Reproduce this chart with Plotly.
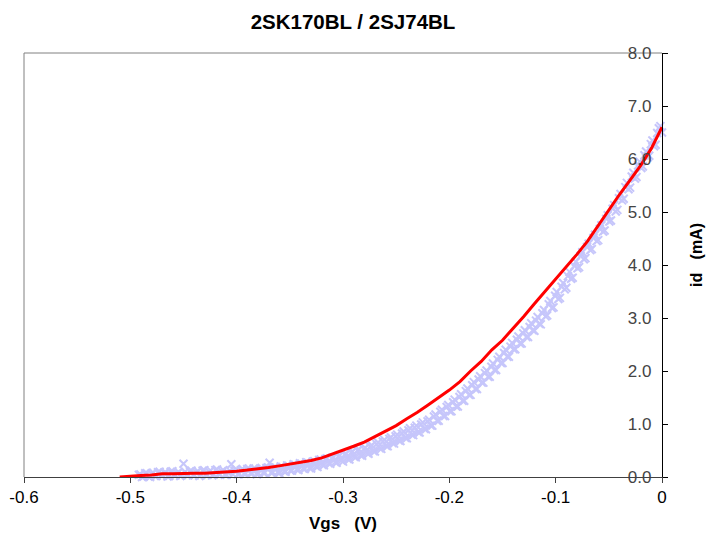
import plotly.graph_objects as go

# Red curve (Vgs in V, id in mA)
red_vgs = [-0.510, -0.500, -0.490, -0.480, -0.470, -0.460, -0.450, -0.440, -0.430, -0.420,
           -0.410, -0.400, -0.390, -0.380, -0.370, -0.360, -0.350, -0.340, -0.330, -0.320,
           -0.310, -0.300, -0.290, -0.280, -0.270, -0.260, -0.250, -0.240, -0.230, -0.220,
           -0.210, -0.200, -0.190, -0.180, -0.170, -0.160, -0.150, -0.140, -0.130, -0.120,
           -0.110, -0.100, -0.090, -0.080, -0.070, -0.060, -0.050, -0.040, -0.030, -0.020,
           -0.010, 0.000]
red_id = [0.00, 0.02, 0.03, 0.04, 0.06, 0.06, 0.07, 0.07, 0.07, 0.08,
          0.10, 0.11, 0.13, 0.15, 0.18, 0.21, 0.24, 0.27, 0.31, 0.36,
          0.43, 0.51, 0.58, 0.66, 0.76, 0.87, 0.97, 1.10, 1.22, 1.36,
          1.50, 1.64, 1.80, 2.00, 2.18, 2.40, 2.58, 2.80, 3.03, 3.27,
          3.50, 3.72, 3.95, 4.20, 4.45, 4.75, 5.03, 5.33, 5.60, 5.88,
          6.20, 6.60]

# Scatter measurements, sweep A (light blue x markers)
blue_vgs = [-0.492, -0.489, -0.486, -0.483, -0.480, -0.477, -0.474, -0.471, -0.468, -0.465,
            -0.462, -0.459, -0.456, -0.453, -0.450, -0.447, -0.444, -0.441, -0.438, -0.435,
            -0.432, -0.429, -0.426, -0.423, -0.420, -0.417, -0.414, -0.411, -0.408, -0.405,
            -0.402, -0.399, -0.396, -0.393, -0.390, -0.387, -0.384, -0.381, -0.378, -0.375,
            -0.372, -0.369, -0.366, -0.363, -0.360, -0.357, -0.354, -0.351, -0.348, -0.345,
            -0.342, -0.339, -0.336, -0.333, -0.330, -0.327, -0.324, -0.321, -0.318, -0.315,
            -0.312, -0.309, -0.306, -0.303, -0.300, -0.297, -0.294, -0.291, -0.288, -0.285,
            -0.282, -0.279, -0.276, -0.273, -0.270, -0.267, -0.264, -0.261, -0.258, -0.255,
            -0.252, -0.249, -0.246, -0.243, -0.240, -0.237, -0.234, -0.231, -0.228, -0.225,
            -0.222, -0.219, -0.216, -0.213, -0.210, -0.207, -0.204, -0.201, -0.198, -0.195,
            -0.192, -0.189, -0.186, -0.183, -0.180, -0.177, -0.174, -0.171, -0.168, -0.165,
            -0.162, -0.159, -0.156, -0.153, -0.150, -0.147, -0.144, -0.141, -0.138, -0.135,
            -0.132, -0.129, -0.126, -0.123, -0.120, -0.117, -0.114, -0.111, -0.108, -0.105,
            -0.102, -0.099, -0.096, -0.093, -0.090, -0.087, -0.084, -0.081, -0.078, -0.075,
            -0.072, -0.069, -0.066, -0.063, -0.060, -0.057, -0.054, -0.051, -0.048, -0.045,
            -0.042, -0.039, -0.036, -0.033, -0.030, -0.027, -0.024, -0.021, -0.018, -0.015,
            -0.012, -0.009, -0.006, -0.003, 0.000]
blue_id = [0.04, 0.00, 0.07, 0.01, 0.06, 0.02, 0.09, 0.03, 0.08, 0.01,
           0.10, 0.04, 0.07, 0.02, 0.25, 0.05, 0.11, 0.03, 0.09, 0.02,
           0.12, 0.05, 0.10, 0.03, 0.13, 0.06, 0.11, 0.04, 0.08, 0.24,
           0.12, 0.05, 0.13, 0.06, 0.15, 0.07, 0.16, 0.05, 0.14, 0.08,
           0.17, 0.27, 0.09, 0.18, 0.07, 0.19, 0.10, 0.21, 0.12, 0.23,
           0.13, 0.25, 0.15, 0.27, 0.16, 0.30, 0.19, 0.33, 0.22, 0.35,
           0.25, 0.37, 0.27, 0.41, 0.29, 0.44, 0.33, 0.48, 0.37, 0.52,
           0.40, 0.55, 0.44, 0.60, 0.48, 0.65, 0.53, 0.70, 0.58, 0.75,
           0.63, 0.80, 0.68, 0.86, 0.73, 0.92, 0.79, 0.97, 0.84, 1.03,
           0.90, 1.08, 0.97, 1.18, 1.06, 1.27, 1.15, 1.36, 1.24, 1.46,
           1.33, 1.56, 1.44, 1.67, 1.55, 1.79, 1.66, 1.90, 1.78, 2.01,
           1.89, 2.14, 2.02, 2.27, 2.15, 2.40, 2.27, 2.53, 2.41, 2.65,
           2.52, 2.77, 2.64, 2.90, 2.76, 3.02, 2.88, 3.15, 3.05, 3.32,
           3.20, 3.49, 3.38, 3.66, 3.57, 3.87, 3.76, 4.06, 3.96, 4.24,
           4.13, 4.40, 4.30, 4.57, 4.47, 4.75, 4.65, 4.94, 4.84, 5.13,
           5.04, 5.34, 5.25, 5.55, 5.46, 5.74, 5.66, 5.95, 5.86, 6.14,
           6.06, 6.35, 6.27, 6.58, 6.50]

# Scatter measurements, sweep B (interleaved)
blue2_vgs = [-0.4905, -0.4875, -0.4845, -0.4815, -0.4785, -0.4755, -0.4725, -0.4695, -0.4665, -0.4635,
             -0.4605, -0.4575, -0.4545, -0.4515, -0.4485, -0.4455, -0.4425, -0.4395, -0.4365, -0.4335,
             -0.4305, -0.4275, -0.4245, -0.4215, -0.4185, -0.4155, -0.4125, -0.4095, -0.4065, -0.4035,
             -0.4005, -0.3975, -0.3945, -0.3915, -0.3885, -0.3855, -0.3825, -0.3795, -0.3765, -0.3735,
             -0.3705, -0.3675, -0.3645, -0.3615, -0.3585, -0.3555, -0.3525, -0.3495, -0.3465, -0.3435,
             -0.3405, -0.3375, -0.3345, -0.3315, -0.3285, -0.3255, -0.3225, -0.3195, -0.3165, -0.3135,
             -0.3105, -0.3075, -0.3045, -0.3015, -0.2985, -0.2955, -0.2925, -0.2895, -0.2865, -0.2835,
             -0.2805, -0.2775, -0.2745, -0.2715, -0.2685, -0.2655, -0.2625, -0.2595, -0.2565, -0.2535,
             -0.2505, -0.2475, -0.2445, -0.2415, -0.2385, -0.2355, -0.2325, -0.2295, -0.2265, -0.2235,
             -0.2205, -0.2175, -0.2145, -0.2115, -0.2085, -0.2055, -0.2025, -0.1995, -0.1965, -0.1935,
             -0.1905, -0.1875, -0.1845, -0.1815, -0.1785, -0.1755, -0.1725, -0.1695, -0.1665, -0.1635,
             -0.1605, -0.1575, -0.1545, -0.1515, -0.1485, -0.1455, -0.1425, -0.1395, -0.1365, -0.1335,
             -0.1305, -0.1275, -0.1245, -0.1215, -0.1185, -0.1155, -0.1125, -0.1095, -0.1065, -0.1035,
             -0.1005, -0.0975, -0.0945, -0.0915, -0.0885, -0.0855, -0.0825, -0.0795, -0.0765, -0.0735,
             -0.0705, -0.0675, -0.0645, -0.0615, -0.0585, -0.0555, -0.0525, -0.0495, -0.0465, -0.0435,
             -0.0405, -0.0375, -0.0345, -0.0315, -0.0285, -0.0255, -0.0225, -0.0195, -0.0165, -0.0135,
             -0.0105, -0.0075, -0.0045, -0.0015]
blue2_id = [0.05, 0.01, 0.07, 0.00, 0.08, 0.02, 0.10, 0.03, 0.08, 0.02,
            0.11, 0.03, 0.09, 0.04, 0.10, 0.04, 0.12, 0.03, 0.11, 0.04,
            0.13, 0.04, 0.12, 0.05, 0.14, 0.05, 0.13, 0.04, 0.12, 0.05,
            0.14, 0.06, 0.15, 0.06, 0.16, 0.07, 0.15, 0.07, 0.17, 0.08,
            0.18, 0.08, 0.19, 0.09, 0.20, 0.11, 0.22, 0.12, 0.24, 0.14,
            0.26, 0.16, 0.28, 0.17, 0.29, 0.20, 0.32, 0.23, 0.34, 0.26,
            0.36, 0.28, 0.39, 0.31, 0.42, 0.34, 0.46, 0.38, 0.50, 0.41,
            0.53, 0.45, 0.57, 0.49, 0.62, 0.54, 0.67, 0.59, 0.72, 0.64,
            0.77, 0.69, 0.82, 0.74, 0.88, 0.80, 0.93, 0.85, 0.99, 0.91,
            1.05, 0.97, 1.14, 1.06, 1.23, 1.15, 1.32, 1.24, 1.41, 1.33,
            1.51, 1.44, 1.62, 1.55, 1.73, 1.66, 1.84, 1.78, 1.96, 1.89,
            2.08, 2.02, 2.21, 2.15, 2.34, 2.27, 2.46, 2.41, 2.59, 2.52,
            2.71, 2.64, 2.83, 2.77, 2.95, 2.89, 3.09, 3.03, 3.26, 3.19,
            3.42, 3.36, 3.59, 3.54, 3.79, 3.74, 3.98, 3.94, 4.17, 4.11,
            4.34, 4.28, 4.51, 4.45, 4.68, 4.63, 4.87, 4.82, 5.06, 5.01,
            5.26, 5.22, 5.47, 5.43, 5.67, 5.63, 5.88, 5.83, 6.07, 6.03,
            6.28, 6.24, 6.49, 6.62]

x_tickvals = [-0.6, -0.5, -0.4, -0.3, -0.2, -0.1, 0.0]
x_ticktext = ["-0.6", "-0.5", "-0.4", "-0.3", "-0.2", "-0.1", "0"]
y_tickvals = [0, 1, 2, 3, 4, 5, 6, 7, 8]
y_ticktext = ["0.0", "1.0", "2.0", "3.0", "4.0", "5.0", "6.0", "7.0", "8.0"]

FONT = "Liberation Sans, Arial, sans-serif"
SP = "&nbsp;"
BLUE = "#c6c6fb"

fig = go.Figure()
for xs, ys in ((blue_vgs, blue_id), (blue2_vgs, blue2_id)):
    fig.add_trace(go.Scatter(
        x=xs, y=ys, mode="markers",
        marker=dict(symbol="x-thin", size=8, color=BLUE, line=dict(width=2, color=BLUE)),
        showlegend=False, cliponaxis=False))
fig.add_trace(go.Scatter(
    x=red_vgs, y=red_id, mode="lines",
    line=dict(color="#ff0000", width=3),
    showlegend=False, cliponaxis=False))

# gray plot-area border (left and top)
fig.add_shape(type="line", xref="x domain", yref="y domain", x0=0, x1=0, y0=0, y1=1,
              line=dict(color="#808080", width=1), layer="below")
fig.add_shape(type="line", xref="x domain", yref="y domain", x0=0, x1=1, y0=1, y1=1,
              line=dict(color="#808080", width=1), layer="below")

W, H = 706, 533
fig.update_layout(
    width=W, height=H,
    margin=dict(l=24, r=44, t=53, b=56),
    paper_bgcolor="white", plot_bgcolor="white",
    font=dict(family=FONT, size=17, color="black"),
    title=dict(text="<b>2SK170BL / 2SJ74BL</b>", x=353 / W, xref="container",
               xanchor="center", y=1 - 22 / H, yanchor="middle",
               font=dict(size=20.5, family=FONT)),
    xaxis=dict(range=[-0.6, 0], tickvals=x_tickvals, ticktext=x_ticktext,
               automargin=False, ticklabeloverflow="allow",
               showgrid=False, zeroline=False, showline=True, linecolor="#404040",
               linewidth=1, ticks="outside", ticklen=5, tickcolor="#404040",
               tickfont=dict(size=17),
               title=dict(text=f"<b>Vgs{SP}{SP}{SP}(V)</b>", standoff=10, font=dict(size=17))),
    yaxis=dict(range=[0, 8], side="right", tickvals=y_tickvals, ticktext=y_ticktext,
               automargin=False, ticklabelposition="inside", ticklabeloverflow="allow",
               ticklabelstandoff=11,
               showgrid=False, zeroline=False,
               showline=True, linecolor="black", linewidth=1, ticks="outside",
               ticklen=5, tickcolor="black", tickfont=dict(size=17)),
    annotations=[dict(text=f"<b>id{SP}{SP}{SP}(mA)</b>", textangle=-90,
                      xref="paper", yref="paper", x=1, y=0.5, xanchor="center",
                      yanchor="middle", xshift=34, yshift=10, showarrow=False,
                      font=dict(size=16, family=FONT))],
)

fig.write_html("out.html", config={"displayModeBar": False},
               post_script="document.body.style.margin='0';document.body.style.overflow='hidden';")
